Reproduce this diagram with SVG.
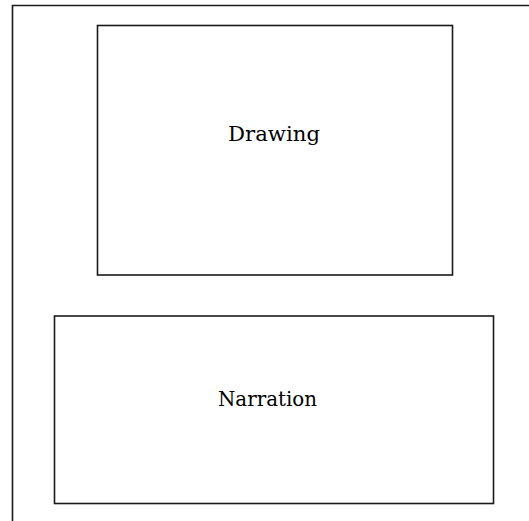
<svg xmlns="http://www.w3.org/2000/svg" width="529" height="521" viewBox="0 0 529 521">
<style>
.box{fill:#fff;stroke:#1a1a1a;stroke-width:1.6}
.frame{fill:none;stroke:#1a1a1a;stroke-width:1.6}
.lbl{font-family:"DejaVu Serif","Liberation Serif",serif;font-size:21px;fill:#000}
</style>
<rect width="529" height="521" fill="#fff"/>
<g id="frame"><path class="frame" d="M12.5 521 V5.5 H529"/></g>
<g id="drawing"><rect class="box" x="97.5" y="25.5" width="355" height="249.5"/><text class="lbl" x="228" y="141" textLength="92" lengthAdjust="spacingAndGlyphs">Drawing</text></g>
<g id="narration"><rect class="box" x="54.5" y="316" width="439" height="187.5"/><text class="lbl" x="218" y="406" textLength="99" lengthAdjust="spacingAndGlyphs">Narration</text></g>
<g id="connectors"></g>
</svg>
